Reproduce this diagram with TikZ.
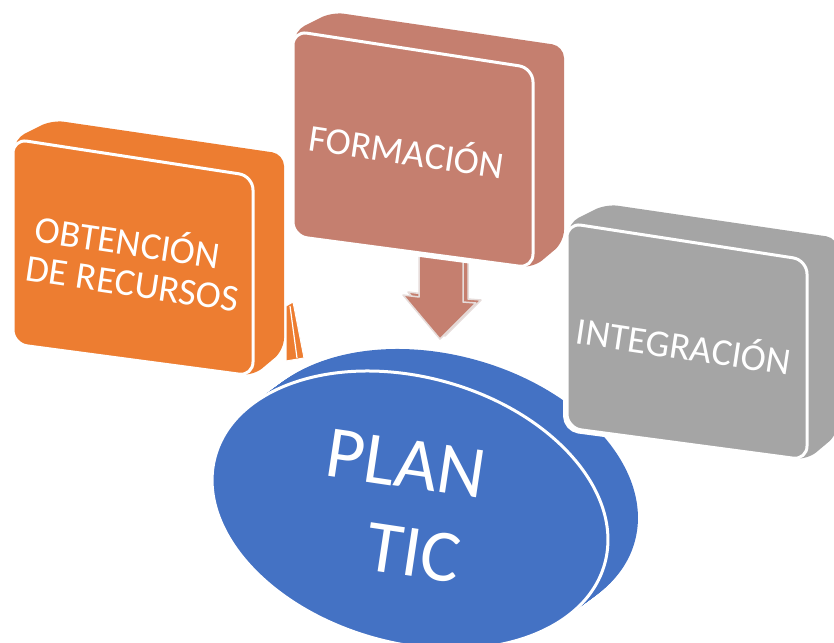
\documentclass[tikz,border=0pt]{standalone}
\usepackage{fontspec}
\setmainfont{Carlito}
\definecolor{orng}{HTML}{ED7D31}
\definecolor{slmn}{HTML}{C57F6F}
\definecolor{gry}{HTML}{A5A5A5}
\definecolor{blu}{HTML}{4472C4}
\definecolor{arrline}{HTML}{E6DCDA}
\tikzset{
  boxhalo/.style={draw=white, line width=8pt, line join=round, rounded corners=12pt},
  boxback/.style={fill=#1, rounded corners=12pt},
  boxfront/.style={fill=#1, draw=white, line width=3pt, rounded corners=14pt},
  boxlabel/.style={text=white, font=\fontsize{38}{40}\selectfont, rotate=-8.5, inner sep=0pt},
  arrowshape/.style={fill=slmn, draw=arrline, line width=1.5pt, line join=round},
}
\newcommand\drawcube[3]{%
  \begin{scope}[shift={(#1,#2)}]
    \path[boxhalo] (14,139) -- (52,120) -- (284,154) -- (284,350) -- (253,376) -- (13,344) -- cycle;
    \path[boxback=#3] (14,139) -- (52,120) -- (284,154) -- (284,350) -- (253,376) -- (13,344) -- cycle;
    \path[boxfront=#3] (13,139) -- (253,176) -- (253,376) -- (13,344) -- cycle;
  \end{scope}}
\begin{document}
\begin{tikzpicture}[x=1pt,y=-1pt]
  \useasboundingbox (0,0) rectangle (834,642);
  % orange cube and its hidden arrow
  \drawcube{0}{0}{orng}
  \filldraw[fill=orng, draw=white, line width=1pt, line join=round] (286,306) -- (293,302) -- (304,358) -- (286,361) -- cycle;
  \draw[white, line width=1.2pt] (290,306) -- (297,358);
  % arrow from FORMACION to PLAN TIC
  \path[arrowshape, shift={(5,-3)}] (419,250) -- (419,297) -- (403,295) -- (440,339) -- (476,303) -- (463,302) -- (463,250) -- cycle;
  \path[arrowshape] (419,250) -- (419,297) -- (403,295) -- (440,339) -- (476,303) -- (463,302) -- (463,250) -- cycle;
  % salmon cube
  \drawcube{280}{-108}{slmn}
  % blue extruded ellipse
  \foreach \i in {0,...,25} {
    \fill[blu, shift={(1.2*\i,-0.88*\i)}, rotate around={-15.4:(410,510)}] (410,510) ellipse [x radius=202pt, y radius=133pt];
  }
  \path[fill=blu, draw=white, line width=3pt, rotate around={-15.4:(410,510)}] (410,510) ellipse [x radius=202pt, y radius=133pt];
  % gray cube
  \drawcube{554}{84}{gry}
  % labels
  \node[boxlabel, align=left] (obt) at (136,261) {\hspace*{3pt}OBTENCIÓN\\DE RECURSOS};
  \node[boxlabel] (form) at (407,149) {FORMACIÓN};
  \node[boxlabel] (integ) at (684,344) {INTEGRACIÓN};
  \node[text=white, font=\fontsize{74}{87}\selectfont, rotate=-8.5, align=left, inner sep=0pt] (plan) at (400,507) {PLAN\\\hspace*{53pt}TIC};
\end{tikzpicture}
\end{document}
